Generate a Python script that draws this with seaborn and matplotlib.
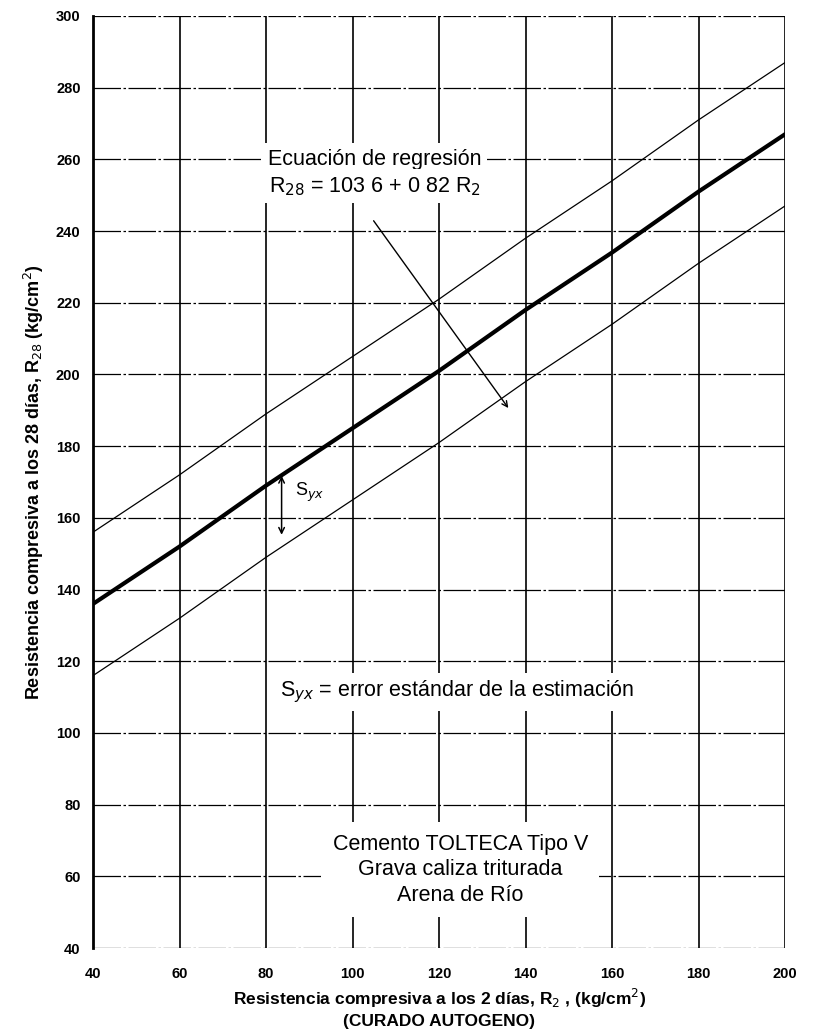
import numpy as np
import pandas as pd
import matplotlib
matplotlib.use("Agg")
import matplotlib.pyplot as plt
import seaborn as sns

# -------------------------------
# Data
# -------------------------------
r2 = [40, 60, 80, 100, 120, 140, 160, 180, 200]
r28_fit = [136, 152, 169, 185, 201, 218, 234, 251, 267]
r28_upper = [156, 172, 189, 205, 221, 238, 254, 271, 287]
r28_lower = [116, 132, 149, 165, 181, 198, 214, 231, 247]

x_ticks = [40, 60, 80, 100, 120, 140, 160, 180, 200]
y_ticks = [40, 60, 80, 100, 120, 140, 160, 180, 200, 220, 240, 260, 280, 300]

df = pd.DataFrame({"R2": r2, "fit": r28_fit, "upper": r28_upper, "lower": r28_lower})

# -------------------------------
# Figure
# -------------------------------
sns.set_style("white")
plt.rcParams['font.family'] = ['Liberation Sans', 'DejaVu Sans']
plt.rcParams['text.color'] = 'black'
plt.rcParams['axes.labelcolor'] = 'black'
plt.rcParams['xtick.color'] = 'black'
plt.rcParams['ytick.color'] = 'black'

fig = plt.figure(figsize=(8.19, 10.36), dpi=100)
ax = fig.add_axes([0.1136, 0.0849, 0.8449, 0.8997])

sns.lineplot(data=df, x="R2", y="fit", color="black", linewidth=3, ax=ax)
sns.lineplot(data=df, x="R2", y="upper", color="black", linewidth=0.9, ax=ax)
sns.lineplot(data=df, x="R2", y="lower", color="black", linewidth=0.9, ax=ax)

ax.set_xlim(40, 200)
ax.set_ylim(40, 300)
ax.set_xticks(x_ticks)
ax.set_yticks(y_ticks)
ax.tick_params(axis="x", length=0, labelsize=10.5, pad=14)
ax.tick_params(axis="y", length=0, labelsize=10.5, pad=9)
for lab in ax.get_xticklabels() + ax.get_yticklabels():
    lab.set_fontweight("bold")

# grid
for xv in x_ticks:
    ax.axvline(xv, color="black", linewidth=1.2, zorder=0)
for yv in y_ticks:
    ax.axhline(yv, color="black", linewidth=0.9, linestyle=(0, (22, 2, 2, 2)), zorder=0)

for side in ["top", "bottom", "right"]:
    ax.spines[side].set_visible(False)
ax.spines["left"].set_linewidth(2)
ax.spines["left"].set_color("black")

ax.set_xlabel("Resistencia compresiva a los 2 días, R$_2$ , (kg/cm$^2$)\n(CURADO AUTOGENO)",
              fontsize=12.5, fontweight="bold", labelpad=4, linespacing=1.3)
ax.set_ylabel("Resistencia compresiva a los 28 días, R$_{28}$ (kg/cm$^2$)",
              fontsize=13, fontweight="bold", labelpad=7)

# annotations
box = dict(facecolor="white", edgecolor="none", pad=4)
ax.text(105.2, 260.0, "Ecuación de regresión", ha="center", va="center", fontsize=15.5, bbox=box)
ax.text(105.2, 252.5, "R$_{28}$ = 103 6 + 0 82 R$_2$", ha="center", va="center", fontsize=15.5,
        bbox=box)
ax.annotate("", xy=(136.4, 190), xytext=(104.5, 243.5),
            arrowprops=dict(arrowstyle="->", color="black", lw=1))

ax.annotate("", xy=(83.6, 154.5), xytext=(83.6, 172.5),
            arrowprops=dict(arrowstyle="<->", color="black", lw=1.1))
ax.text(86.8, 167, "S$_{yx}$", ha="left", va="center", fontsize=13)

ax.text(83.2, 111.4, "S$_{yx}$ = error estándar de la estimación", ha="left", va="center",
        fontsize=15.5, bbox=box)

ax.text(124.9, 61.8, "Cemento TOLTECA Tipo V\nGrava caliza triturada\nArena de Río",
        ha="center", va="center", fontsize=15.5, linespacing=1.3,
        bbox=dict(facecolor="white", edgecolor="none", pad=8))

plt.savefig("out.png", dpi=100)
plt.close()
